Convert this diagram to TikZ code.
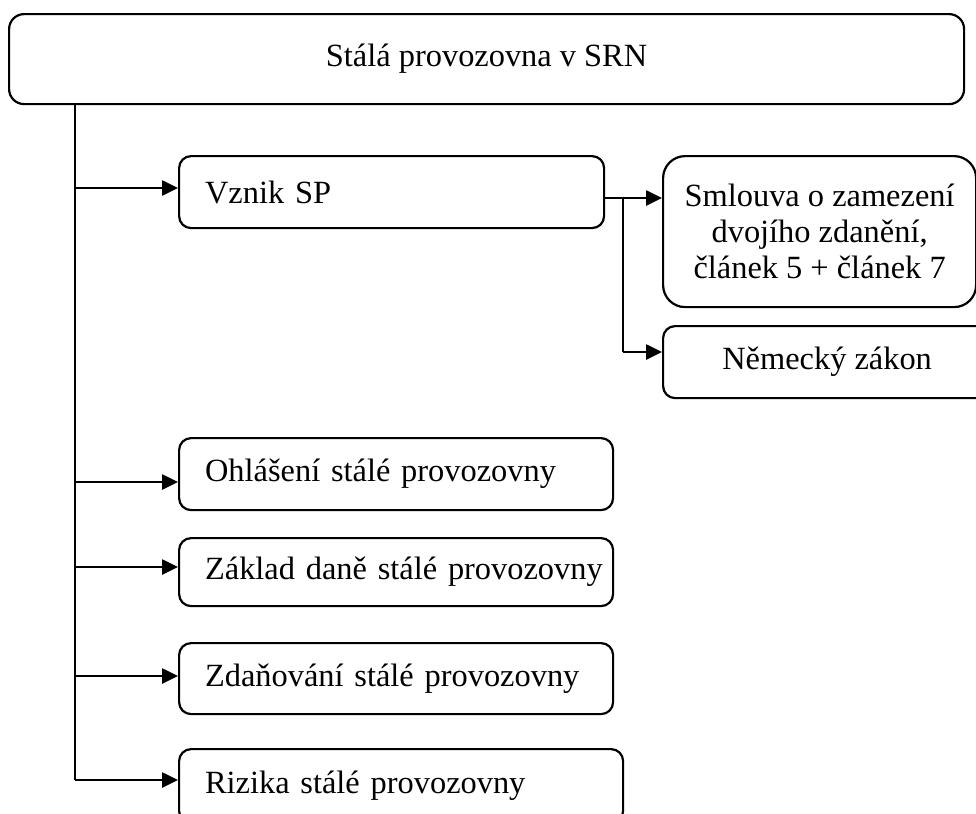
\documentclass[tikz,border=0pt]{standalone}
\usepackage{fontspec}
\setmainfont{Liberation Serif}
\usetikzlibrary{arrows.meta}

\tikzset{
  box/.style={draw, line width=1.1pt, rounded corners=6pt, anchor=north west,
    inner xsep=13pt, inner ysep=0pt, align=left,
    font=\fontsize{16.2}{18}\selectfont},
  leftbox/.style={box, text width=#1,
    execute at begin node=\hbox\bgroup, execute at end node=\egroup},
  arr/.style={line width=1.3pt, -{Triangle[length=8pt,width=7.5pt]}},
  trunk/.style={line width=1.3pt},
}

\begin{document}
\begin{tikzpicture}[x=0.5pt, y=-0.5pt]
\useasboundingbox (0,0) rectangle (976,814);

% main box
\node[box, rounded corners=7.5pt, align=center, inner sep=0pt,
  minimum width=477.5pt, minimum height=45pt] (stala) at (8,13) {Stálá provozovna v SRN};

% first level
\node[leftbox=186.5pt, minimum height=36pt] (vznik) at (178,155) {Vznik SP};
\node[leftbox=191pt, minimum height=36pt] (ohlaseni) at (178,437) {Ohlášení stálé provozovny};
\node[leftbox=191pt, minimum height=34pt] (zaklad) at (178,537) {Základ daně stálé provozovny};
\node[leftbox=191pt, minimum height=35.5pt] (zdanovani) at (178,642) {Zdaňování stálé provozovny};
\node[leftbox=196pt, minimum height=37pt] (rizika) at (178,748) {Rizika stálé provozovny};

% second level
\node[box, rounded corners=11pt, align=center, inner sep=0pt,
  minimum width=156.5pt, minimum height=75.5pt] (smlouva) at (662,155)
  {Smlouva o zamezení\\ dvojího zdanění,\\ článek 5 + článek 7};
\node[box, align=center, inner sep=0pt,
  minimum width=164pt, minimum height=36pt] (zakon) at (662,325) {Německý zákon};

% connectors
\coordinate (k1) at (75,188);
\coordinate (k2) at (75,482);
\coordinate (k3) at (75,567);
\coordinate (k4) at (75,676);
\coordinate (k5) at (75,780);
\draw[trunk] (stala.south -| k5) -- (k5);
\foreach \k/\n in {k1/vznik, k2/ohlaseni, k3/zaklad, k4/zdanovani, k5/rizika}
  \draw[arr] (\k) -- (\k -| \n.west);

\coordinate (s1) at (623,198);
\coordinate (s2) at (623,352);
\draw[arr] (s1 -| vznik.east) -- (s1 -| smlouva.west);
\draw[trunk] (s1) -- (s2);
\draw[arr] (s2) -- (s2 -| zakon.west);
\end{tikzpicture}
\end{document}
